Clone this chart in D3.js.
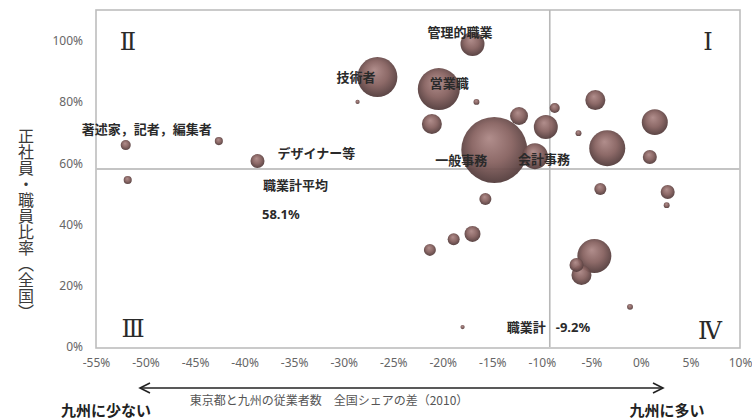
<!DOCTYPE html>
<html><head><meta charset="utf-8">
<script src="https://cdn.jsdelivr.net/npm/d3@7"></script>
<style>
html,body{margin:0;padding:0;background:#fff;}
svg{display:block;}
text{font-family:"Noto Sans CJK JP","Noto Sans",sans-serif;}
</style></head>
<body>
<svg id="chart" width="752" height="419"></svg>
<script>
// ---- data ----
const xTicks = [-0.55,-0.50,-0.45,-0.40,-0.35,-0.30,-0.25,-0.20,-0.15,-0.10,-0.05,0,0.05,0.10];
const yTicks = [0,0.2,0.4,0.6,0.8,1.0];
const jobName = ["管理的職業","技術者","営業職","一般事務","会計事務","","","","","","","","","","","","","","","","","","","","","","","著述家，記者，編集者","","デザイナー等","",""];
const jobX = [-0.170,-0.266,-0.204,-0.148,-0.107,-0.123,-0.096,-0.211,-0.166,-0.087,-0.063,-0.157,-0.046,0.014,-0.034,0.009,-0.041,0.027,0.026,-0.170,-0.189,-0.213,-0.047,-0.060,-0.065,-0.011,-0.180,-0.520,-0.426,-0.387,-0.518,-0.286];
const jobY = [0.989,0.881,0.842,0.643,0.623,0.754,0.718,0.728,0.800,0.780,0.698,0.483,0.806,0.734,0.649,0.620,0.516,0.506,0.463,0.369,0.352,0.317,0.297,0.235,0.268,0.131,0.065,0.659,0.672,0.607,0.545,0.800];
const jobSize = [13.2,36.7,40.5,100,15.5,7.4,13.2,9.2,0.8,2.3,0.8,3.3,9.2,15.5,29.8,4.5,3.3,4.5,0.8,5.9,3.3,3.3,26.5,9.2,4.5,0.8,0.4,2.3,1.5,4.5,1.5,0.4];
const avgRatio = 0.581;      // 職業計平均
const totalDiff = -0.092;    // 職業計
const quadrants = ["Ⅰ","Ⅱ","Ⅲ","Ⅳ"];

// ---- layout ----
const svg = d3.select("#chart");
const x = d3.scaleLinear().domain([-0.55, 0.10]).range([96, 740]);
const y = d3.scaleLinear().domain([0, 1.1]).range([347, 10]);
const r = d3.scaleSqrt().domain([0, 100]).range([0, 33]);
const loc = d3.formatLocale({decimal:".",thousands:",",grouping:[3],currency:["",""],minus:"-"});
const fmt = loc.format(".0%");

// gradient for bubbles
const defs = svg.append("defs");
const g = defs.append("radialGradient").attr("id","bub").attr("cx","50%").attr("cy","45%").attr("r","55%").attr("fx","42%").attr("fy","32%");
g.append("stop").attr("offset","0%").attr("stop-color","#ad8886");
g.append("stop").attr("offset","55%").attr("stop-color","#876260");
g.append("stop").attr("offset","100%").attr("stop-color","#523b3b");

// plot frame
svg.append("rect").attr("x",x(-0.55)).attr("y",y(1.1)).attr("width",x(0.10)-x(-0.55)).attr("height",y(0)-y(1.1)+1)
  .attr("fill","#fff").attr("stroke","#bdbdbd").attr("stroke-width",1.6);

// reference lines
svg.append("line").attr("x1",x(-0.55)).attr("x2",x(0.10)).attr("y1",y(avgRatio)).attr("y2",y(avgRatio))
  .attr("stroke","#c4c4c4").attr("stroke-width",1.8);
svg.append("line").attr("x1",x(totalDiff)).attr("x2",x(totalDiff)).attr("y1",y(1.1)).attr("y2",y(0))
  .attr("stroke","#b8b8b8").attr("stroke-width",1.6);

// axes
const xAxis = svg.append("g").attr("transform",`translate(0,${y(0)+8})`)
  .call(d3.axisBottom(x).tickValues(xTicks).tickFormat(fmt).tickSize(0));
xAxis.select(".domain").remove();
xAxis.selectAll("text").attr("fill","#666").style("font-family","'Noto Sans',sans-serif").style("font-size","12px");

const yAxis = svg.append("g").attr("transform",`translate(83,0)`)
  .call(d3.axisLeft(y).tickValues(yTicks).tickFormat(fmt).tickSize(0));
yAxis.select(".domain").remove();
yAxis.selectAll("text").attr("fill","#666").attr("x",0).style("font-family","'Noto Sans',sans-serif").style("font-size","12px");

// bubbles
const pts = jobX.map((d,i)=>({x:d,y:jobY[i],s:jobSize[i],n:jobName[i]}));
svg.append("g").selectAll("circle").data(pts.slice().sort((a,b)=>b.s-a.s)).join("circle")
  .attr("cx",d=>x(d.x)).attr("cy",d=>y(d.y)).attr("r",d=>r(d.s))
  .attr("fill","url(#bub)").attr("opacity",0.95);

// labels (offsets from bubble centres in px)
const labelOffset = {"管理的職業":[-45,-7],"技術者":[-41,5],"営業職":[-9,-1],"一般事務":[-59,15],"会計事務":[-17,8],"著述家，記者，編集者":[-44,-11],"デザイナー等":[20,-3]};
svg.append("g").selectAll("text").data(pts.filter(d=>d.n)).join("text")
  .attr("x",d=>x(d.x)+labelOffset[d.n][0]).attr("y",d=>y(d.y)+labelOffset[d.n][1])
  .attr("font-size",13).attr("font-weight","bold").attr("fill","#2a2a2a").text(d=>d.n);

// average annotations
svg.append("text").attr("x",263).attr("y",y(avgRatio)+21).attr("font-size",13).attr("font-weight","bold").attr("fill","#2a2a2a").text("職業計平均");
svg.append("text").attr("x",262).attr("y",y(avgRatio)+50).attr("font-size",13).attr("font-weight","bold").attr("fill","#2a2a2a")
  .style("font-family","'Noto Sans',sans-serif").text(d3.format(".1%")(avgRatio));
svg.append("text").attr("x",x(totalDiff)-4).attr("y",332).attr("text-anchor","end").attr("font-size",13).attr("font-weight","bold").attr("fill","#2a2a2a").text("職業計");
svg.append("text").attr("x",x(totalDiff)+6).attr("y",332).attr("font-size",13).attr("font-weight","bold").attr("fill","#2a2a2a")
  .style("font-family","'Noto Sans',sans-serif").text(loc.format(".1%")(totalDiff));

// quadrant numerals
const qPos = [[708,50],[128,50],[133,337],[710,339]];
svg.append("g").selectAll("text").data(quadrants).join("text")
  .attr("x",(d,i)=>qPos[i][0]).attr("y",(d,i)=>qPos[i][1]).attr("text-anchor","middle")
  .style("font-family","'DejaVu Serif','Liberation Serif',serif").attr("font-size",24).attr("fill","#2a2a2a").text(d=>d);

// y-axis title (vertical)
svg.append("text").attr("x",26).attr("y",128).attr("writing-mode","vertical-rl")
  .attr("font-size",16).attr("fill","#3a3a3a").text("正社員・職員比率（全国）");

// x-axis arrow & titles
const ay = 388, ax1 = 140, ax2 = 663;
svg.append("line").attr("x1",ax1).attr("x2",ax2).attr("y1",ay).attr("y2",ay).attr("stroke","#222").attr("stroke-width",1.3);
svg.append("polyline").attr("points",`${ax1+10},${ay-5} ${ax1},${ay} ${ax1+10},${ay+5}`).attr("fill","none").attr("stroke","#222").attr("stroke-width",1.6);
svg.append("polyline").attr("points",`${ax2-10},${ay-5} ${ax2},${ay} ${ax2-10},${ay+5}`).attr("fill","none").attr("stroke","#222").attr("stroke-width",1.6);
svg.append("text").attr("x",329).attr("y",405).attr("text-anchor","middle").attr("font-size",12).attr("fill","#555").text("東京都と九州の従業者数　全国シェアの差（2010）");
svg.append("text").attr("x",106).attr("y",416).attr("text-anchor","middle").attr("font-size",15).attr("font-weight","bold").attr("fill","#222").text("九州に少ない");
svg.append("text").attr("x",667).attr("y",416).attr("text-anchor","middle").attr("font-size",15).attr("font-weight","bold").attr("fill","#222").text("九州に多い");
</script>
</body></html>
